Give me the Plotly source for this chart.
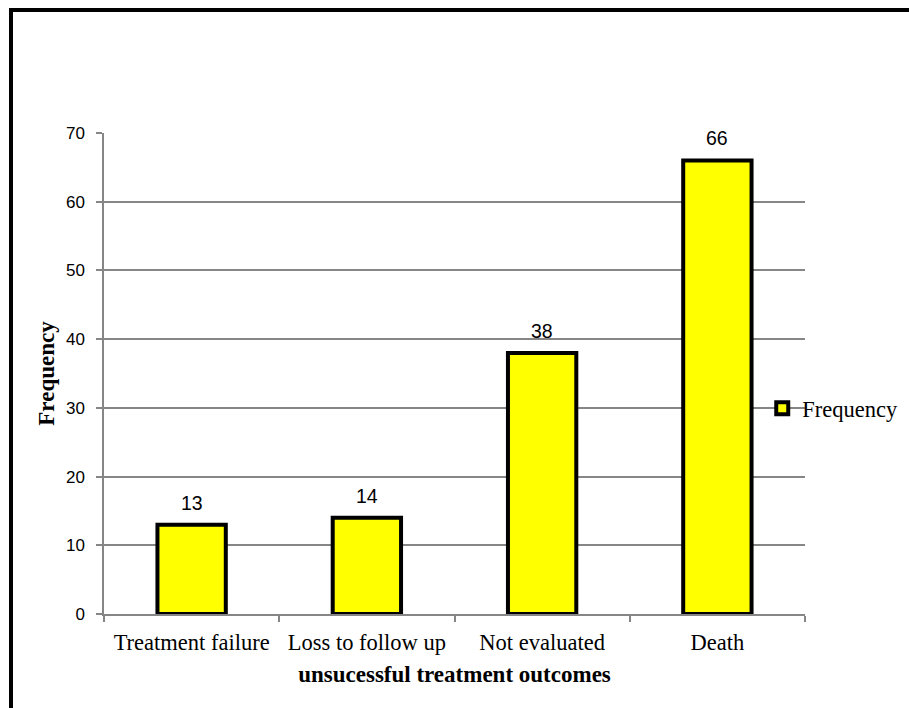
import plotly.graph_objects as go

# Unsuccessful treatment outcomes and their counts
outcomes = ["Treatment failure", "Loss to follow up", "Not evaluated", "Death"]
frequency = [13, 14, 38, 66]
y_ticks = [0, 10, 20, 30, 40, 50, 60, 70]

GRID = "#868686"
SERIF = "Liberation Serif, Times New Roman, serif"
SANS = "Liberation Sans, Arial, sans-serif"

fig = go.Figure()
fig.add_trace(go.Bar(
    x=outcomes,
    y=frequency,
    name="Frequency",
    width=0.39,
    marker=dict(color="#FFFF00", line=dict(color="black", width=4)),
    showlegend=False,
    legendgroup="freq",
))
# legend key for the bar series (thick-bordered square)
fig.add_trace(go.Scatter(
    x=[None], y=[None], mode="markers", name="Frequency",
    legendgroup="freq",
    marker=dict(symbol="square", size=12, color="#FFFF00",
                line=dict(color="black", width=4)),
))

# value labels above each bar
for cat, val in zip(outcomes, frequency):
    fig.add_annotation(x=cat, y=val, text=str(val), showarrow=False,
                       yshift=22, font=dict(family=SANS, size=19.5, color="black"))

# outer frame of the chart area
fig.add_shape(type="rect", xref="paper", yref="paper",
              x0=(11 - 104) / 701, x1=2.0,
              y0=-1.0, y1=(614 - 10) / 481,
              line=dict(color="black", width=4), layer="above")

fig.update_layout(
    width=909, height=708,
    margin=dict(l=104, r=104, t=133, b=94, autoexpand=False),
    paper_bgcolor="white", plot_bgcolor="white",
    bargap=0.61,
    showlegend=True,
    legend=dict(x=0.939, y=0.427, xanchor="left", yanchor="middle",
                font=dict(family=SERIF, size=22.5, color="black"),
                bgcolor="rgba(0,0,0,0)", itemwidth=30),
    xaxis=dict(
        title=dict(text="<b>unsucessful treatment outcomes</b>",
                   font=dict(family=SERIF, size=23, color="black"), standoff=12),
        tickfont=dict(family=SERIF, size=22.5, color="black"),
        showline=True, linecolor=GRID, linewidth=1.5,
        ticks="outside", tickson="boundaries", ticklen=6, tickcolor=GRID, tickwidth=1.5,
        ticklabelstandoff=7,
        showgrid=False,
    ),
    yaxis=dict(
        title=dict(text="<b>Frequency</b>",
                   font=dict(family=SERIF, size=23, color="black"), standoff=5),
        range=[0, 70], tickvals=y_ticks,
        tickfont=dict(family=SANS, size=17, color="black"),
        showline=True, linecolor=GRID, linewidth=1.5,
        ticks="outside", ticklen=6, tickcolor=GRID, tickwidth=1.5,
        ticklabelstandoff=8,
        showgrid=True, gridcolor=GRID, gridwidth=1.5,
        zeroline=False,
    ),
)

fig.write_html("out.html")
